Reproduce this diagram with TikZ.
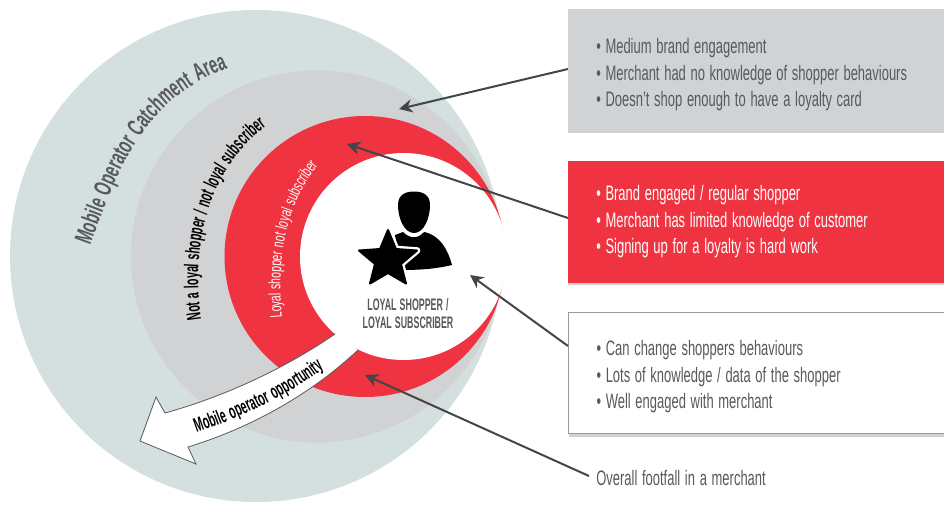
\documentclass[tikz,border=0pt]{standalone}
\usepackage{fontspec}
\setmainfont{Liberation Sans}[FakeStretch=0.62,WordSpace=1.3]
\newfontfamily\condfont{Liberation Sans}[FakeStretch=0.53,WordSpace=1.3]
\newfontfamily\catchfont{Liberation Sans}[FakeStretch=0.6,WordSpace=1.2]
\usetikzlibrary{arrows.meta,decorations.text,shadows}

\definecolor{catchment}{HTML}{D3E0DF}
\definecolor{midgrey}{HTML}{D1D2D4}
\definecolor{loyalred}{HTML}{EF3340}
\definecolor{inkgrey}{HTML}{58595B}
\definecolor{arrowgrey}{HTML}{444547}

\tikzset{
  infobox/.style={anchor=north west,minimum width=282pt,minimum height=91pt,inner sep=0pt,
    align=flush left,text width=240pt,font=\fontsize{15.7}{19.9}\selectfont},
  pointer/.style={-{Stealth[length=10pt,width=10pt]},line width=1.5pt,arrowgrey},
  boxshadow/.style={drop shadow={shadow xshift=0pt,shadow yshift=-2pt,opacity=.18,fill=black}},
}

\begin{document}
\begin{tikzpicture}[x=0.75pt,y=-0.75pt]
  \useasboundingbox (0,0) rectangle (944,507);

  % circles
  \fill [catchment] (256,256) circle (246);
  \fill [midgrey] (317,256.5) circle (186);
  \fill [loyalred] (365,256.5) circle (140.5);
  \fill [white] (403.5,256.5) circle (103.5);

  % curved labels
  \path [decorate,decoration={text along path,text align=center,
    text={|\catchfont\fontsize{18.5}{18.5}\selectfont\bfseries\color{inkgrey}|Mobile Operator Catchment Area}}]
    (90,246) .. controls (118,170) and (142,100) .. (228,68);
  \path [decorate,decoration={text along path,text align=center,
    text={|\condfont\fontsize{15}{15}\selectfont\bfseries\color{black}|Not a loyal shopper / not loyal subscriber}}]
    (203,330) .. controls (190,260) and (200,170) .. (275,120);
  \path [decorate,decoration={text along path,text align=center,
    text={|\fontsize{12.5}{12.5}\selectfont\color{white}|Loyal shopper not loyal subscriber}}]
    (283,328) .. controls (275,260) and (285,200) .. (325,158);

  % opportunity arrow
  \fill [white] (335,334) .. controls (290,365) and (230,395) .. (165,413)
    -- (156,397) -- (140,441) -- (196,464) -- (188,447)
    .. controls (250,428) and (310,395) .. (358,350) -- cycle;
  \draw [inkgrey,line width=0.6pt] (335,334) .. controls (290,365) and (230,395) .. (165,413)
    -- (156,397) -- (140,441) -- (196,464) -- (188,447)
    .. controls (250,428) and (310,395) .. (358,350);
  \path [decorate,decoration={text along path,text align=center,
    text={|\condfont\fontsize{15}{15}\selectfont\bfseries\color{black}|Mobile operator opportunity}}]
    (193,434) .. controls (240,418) and (290,395) .. (327,366);

  % shopper icon
  \fill [black] (398,205) .. controls (398,195) and (405,191.5) .. (414,191.5)
    .. controls (423,191.5) and (430,195) .. (430,205)
    .. controls (430,218) and (424,233) .. (414,233)
    .. controls (404,233) and (398,218) .. (398,205) -- cycle;
  \fill [black] (395,235) -- (403,232) .. controls (410,239) and (418,239) .. (424,232)
    .. controls (440,235) and (448,250) .. (452,265)
    .. controls (435,269) and (420,270) .. (400,270) -- cycle;
  \draw [white,line width=5pt,line join=round,fill=white] (388,229.5) -- (396,249) -- (417,250.5)
    -- (401,264) -- (406,284) -- (388,273) -- (370,284) -- (375,264) -- (359,250.5) -- (380,249) -- cycle;
  \draw [black,line width=1.5pt,line join=round,fill=black] (388,230) -- (396,249) -- (417,250.5)
    -- (401,264) -- (406,283.5) -- (388,273) -- (370,283.5) -- (375,264) -- (359,250.5) -- (380,249) -- cycle;
  \node (loyal) [align=center,text=inkgrey,font=\condfont\fontsize{12.5}{13.5}\selectfont\bfseries] at (408,314)
    {LOYAL SHOPPER /\\LOYAL SUBSCRIBER};

  % text boxes
  \node (grey box) [infobox,fill=midgrey,text=inkgrey,boxshadow,text height=19pt] at (568,9)
    {\textbullet\ Medium brand engagement\\\textbullet\ Merchant had no knowledge of shopper behaviours\\\textbullet\ Doesn't shop enough to have a loyalty card};
  \node (red box) [infobox,fill=loyalred,text=white,boxshadow] at (568,161)
    {\textbullet\ Brand engaged / regular shopper\\\textbullet\ Merchant has limited knowledge of customer\\\textbullet\ Signing up for a loyalty is hard work};
  \node (white box) [infobox,fill=white,draw=black!40,line width=0.8pt,text=inkgrey,boxshadow,text height=17pt] at (568,312)
    {\textbullet\ Can change shoppers behaviours\\\textbullet\ Lots of knowledge / data of the shopper\\\textbullet\ Well engaged with merchant};
  \node (footfall) [anchor=west,inner sep=0pt,text=inkgrey,font=\fontsize{15.7}{18}\selectfont] at (596,478)
    {Overall footfall in a merchant};

  % pointers
  \coordinate (grey start) at (568,69);
  \coordinate (red start) at (568,218);
  \coordinate (white start) at (568,346);
  \coordinate (foot start) at (589,476);
  \coordinate (grey target) at (399,109);
  \coordinate (red target) at (347,144);
  \coordinate (white target) at (470,275);
  \coordinate (foot target) at (365,375);
  \draw [pointer] (grey start) -- (grey target);
  \draw [pointer] (red start) -- (red target);
  \draw [pointer] (white start) -- (white target);
  \draw [pointer] (foot start) -- (foot target);
\end{tikzpicture}
\end{document}
